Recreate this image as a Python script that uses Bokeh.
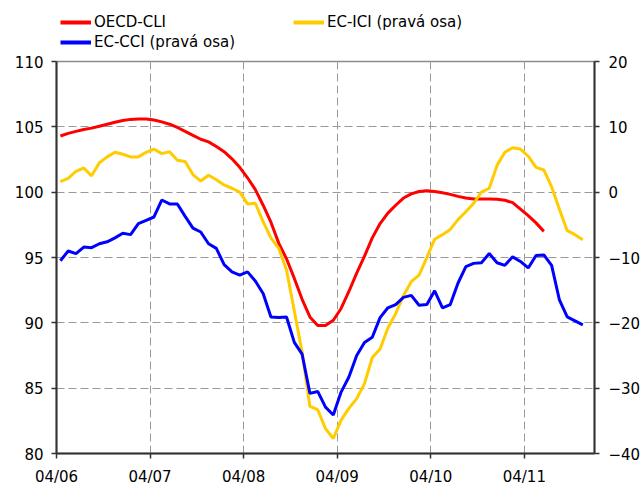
import numpy as np
import pandas as pd
from bokeh.plotting import figure
from bokeh.layouts import column
from bokeh.models import Range1d, LinearAxis, FixedTicker, Legend, LegendItem
from bokeh.embed import file_html
from bokeh.resources import INLINE

# ---- data ----
months = [p.strftime("%m/%y") for p in pd.period_range("2006-04", "2011-11", freq="M")]

oecd_cli = [104.3, 104.5, 104.65, 104.8, 104.9, 105.05, 105.2, 105.35, 105.48, 105.57,
            105.6, 105.6, 105.52, 105.38, 105.2, 104.95, 104.65, 104.35, 104.05, 103.85,
            103.5, 103.1, 102.55, 101.9, 101.1, 100.2, 99.0, 97.7, 96.1, 94.9,
            93.4, 91.8, 90.45, 89.8, 89.8, 90.2, 91.1, 92.4, 93.8, 95.1,
            96.5, 97.6, 98.4, 99.0, 99.55, 99.87, 100.05, 100.1, 100.05, 99.95,
            99.83, 99.68, 99.55, 99.48, 99.47, 99.47, 99.46, 99.38, 99.2, 98.7,
            98.2, 97.65, 97.0]

ec_ici = [1.6, 2.1, 3.2, 3.7, 2.5, 4.5, 5.4, 6.1, 5.8, 5.4,
          5.4, 6.1, 6.6, 5.9, 6.2, 4.9, 4.7, 2.7, 1.7, 2.6,
          1.9, 1.1, 0.6, 0.0, -1.8, -1.7, -4.5, -7.0, -8.6, -11.9,
          -18.2, -24.5, -32.8, -33.3, -36.2, -37.7, -34.9, -33.1, -31.6, -29.3,
          -25.3, -24.0, -20.8, -18.6, -15.8, -13.7, -12.7, -10.0, -7.2, -6.5,
          -5.7, -4.2, -3.0, -1.7, 0.0, 0.6, 4.1, 6.1, 6.8, 6.6,
          5.5, 3.8, 3.4, 0.8, -2.6, -5.9, -6.5, -7.3]

ec_cci = [-10.5, -9.0, -9.4, -8.4, -8.5, -7.9, -7.6, -7.0, -6.3, -6.5,
          -4.8, -4.3, -3.8, -1.2, -1.8, -1.8, -3.7, -5.5, -6.1, -7.9,
          -8.6, -11.1, -12.2, -12.7, -12.2, -13.6, -15.5, -19.1, -19.2, -19.1,
          -23.0, -24.8, -30.8, -30.5, -32.9, -34.1, -30.6, -28.3, -25.0, -23.0,
          -22.2, -19.2, -17.7, -17.2, -16.1, -15.8, -17.3, -17.2, -15.1, -17.7,
          -17.2, -13.9, -11.4, -10.9, -10.8, -9.4, -10.8, -11.2, -9.9, -10.6,
          -11.6, -9.7, -9.6, -11.2, -16.5, -19.1, -19.7, -20.3]

series_names = ["OECD-CLI", "EC-ICI (pravá osa)", "EC-CCI (pravá osa)"]
series_colors = ["#ff0000", "#ffcc00", "#0000ff"]

tick_labels = ["04/06", "04/07", "04/08", "04/09", "04/10", "04/11"]
left_ticks = [80, 85, 90, 95, 100, 105, 110]
right_ticks = [-40, -30, -20, -10, 0, 10, 20]

x_all = np.arange(len(months)) + 0.5
x_cli = x_all[:len(oecd_cli)]
tick_pos = [months.index(t) for t in tick_labels]
series_x = [x_cli, x_all, x_all]
series_y = [oecd_cli, ec_ici, ec_cci]

FONT = "DejaVu Sans"
FS = "15px"

# ---- legend strip (its lines lie outside its own ranges, only the legend shows) ----
lg = figure(width=643, height=55, output_backend="svg", toolbar_location=None,
            x_range=Range1d(1000, 1001), y_range=Range1d(1000, 1001),
            x_axis_type=None, y_axis_type=None, min_border=0)
lg.outline_line_color = None
lg.xgrid.visible = False
lg.ygrid.visible = False
proxies = [lg.line(x=xs, y=ys, line_color=c, line_width=4)
           for xs, ys, c in zip(series_x, series_y, series_colors)]
legend = Legend(items=[LegendItem(label=n, renderers=[r]) for n, r in zip(series_names, proxies)],
                orientation="horizontal", ncols=2, location=(4, 3.5),
                padding=0, margin=0, spacing=0, border_line_color=None,
                background_fill_alpha=0, glyph_width=31, glyph_height=20,
                label_standoff=3, label_width=199,
                label_text_font=FONT, label_text_font_size=FS,
                label_text_color="black")
lg.add_layout(legend)

# ---- main chart ----
p = figure(width=643, height=433, output_backend="svg", toolbar_location=None,
           x_range=Range1d(0, 69), y_range=Range1d(80, 110),
           min_border_left=56, min_border_right=43, min_border_top=6, min_border_bottom=31)
p.extra_y_ranges = {"right": Range1d(-40, 20)}

p.outline_line_color = "#8c8c8c"
p.outline_line_width = 1.5

for g in (p.xgrid, p.ygrid):
    g.grid_line_color = "#9a9a9a"
    g.grid_line_dash = "8 4"
    g.grid_line_width = 1
p.xgrid.ticker = FixedTicker(ticks=tick_pos)
p.ygrid.ticker = FixedTicker(ticks=left_ticks)

xa = p.xaxis[0]
xa.ticker = FixedTicker(ticks=tick_pos)
xa.major_label_overrides = {tp: lab for tp, lab in zip(tick_pos, tick_labels)}

ya = p.yaxis[0]
ya.ticker = FixedTicker(ticks=left_ticks)

ra = LinearAxis(y_range_name="right", ticker=FixedTicker(ticks=right_ticks))
p.add_layout(ra, "right")

for ax in (xa, ya, ra):
    ax.axis_line_color = "#333333"
    ax.axis_line_width = 2
    ax.major_tick_line_color = "#333333"
    ax.major_tick_line_width = 1.5
    ax.major_tick_out = 5
    ax.major_tick_in = 0
    ax.minor_tick_line_color = None
    ax.major_label_text_font = FONT
    ax.major_label_text_font_size = FS
    ax.major_label_text_color = "black"
xa.major_label_standoff = 9
ya.major_label_standoff = 8
ra.major_label_standoff = 9

p.line(x_cli, oecd_cli, line_color=series_colors[0], line_width=3)
p.line(x_all, ec_ici, line_color=series_colors[1], line_width=3, y_range_name="right")
p.line(x_all, ec_cci, line_color=series_colors[2], line_width=3, y_range_name="right")

layout = column(lg, p, spacing=0)
open("out.html", "w").write(file_html(layout, INLINE))
